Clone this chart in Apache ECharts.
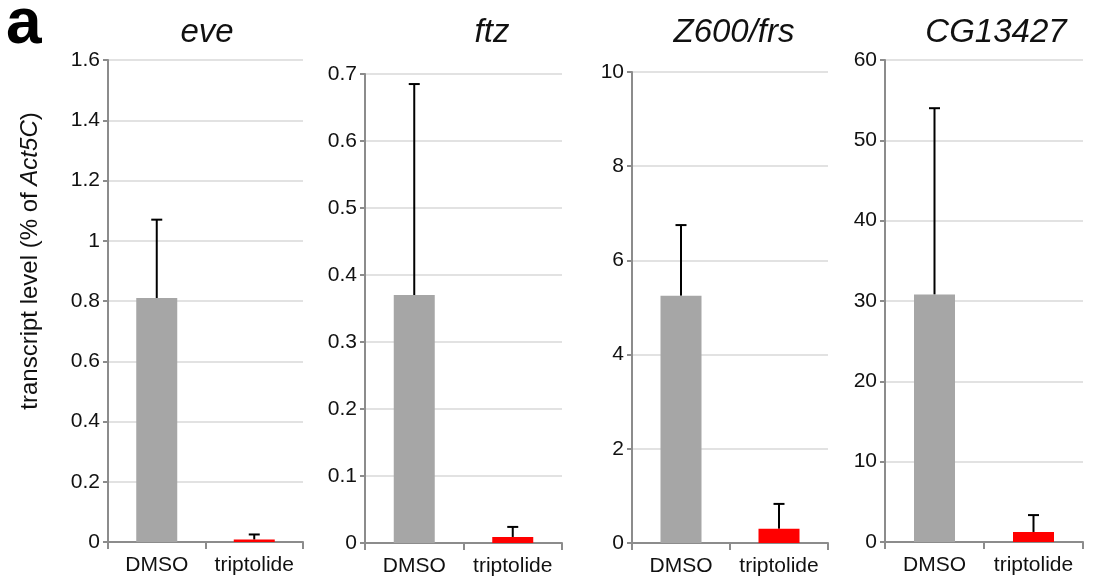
<!DOCTYPE html>
<html>
<head>
<meta charset="utf-8">
<script src="https://cdn.jsdelivr.net/npm/echarts@6/dist/echarts.min.js"></script>
<style>
  html, body { margin: 0; padding: 0; background: #fff; }
  #myChart { width: 1098px; height: 583px; }
</style>
</head>
<body>
<div id="myChart"></div>
<script>
// data
var categories = ["DMSO", "triptolide"];
var genes = ["eve", "ftz", "Z600/frs", "CG13427"];
var means = [
  [0.81, 0.008],
  [0.37, 0.009],
  [5.25, 0.30],
  [30.8, 1.25]
];
var errTops = [
  [1.07, 0.025],
  [0.685, 0.024],
  [6.75, 0.83],
  [54.0, 3.35]
];
var yMax = [1.6, 0.7, 10, 60];
var yStep = [0.2, 0.1, 2, 10];
var barColors = ["#a6a6a6", "#ff0000"];

// panel placement
var grids = [
  { left: 108, top: 60, width: 195, height: 482 },
  { left: 365, top: 74, width: 197, height: 469 },
  { left: 632, top: 72, width: 196, height: 471 },
  { left: 885, top: 60, width: 198, height: 482 }
];
var titleX = [202, 487, 729, 991];

var FONT = "Liberation Sans, Arial, sans-serif";
var axisGray = "#8c8c8c";

var option = {
  animation: false,
  backgroundColor: "#fff",
  title: genes.map(function (g, i) {
    return {
      text: g,
      left: titleX[i],
      top: 11,
      textAlign: "center",
      textStyle: { fontFamily: FONT, fontStyle: "italic", fontWeight: "normal", fontSize: 33, color: "#111" }
    };
  }),
  graphic: [
    {
      type: "text",
      left: 6,
      top: -7,
      style: { text: "a", font: "bold 64px " + FONT, fill: "#000" }
    },
    {
      type: "text",
      x: 30,
      y: 261,
      rotation: Math.PI / 2,
      style: {
        text: "{n|transcript level (% of }{i|Act5C}{n|)}",
        align: "center",
        verticalAlign: "middle",
        rich: {
          n: { fontFamily: FONT, fontSize: 24, fill: "#111" },
          i: { fontFamily: FONT, fontSize: 24, fill: "#111", fontStyle: "italic" }
        }
      }
    }
  ],
  grid: grids,
  xAxis: grids.map(function (g, i) {
    return {
      type: "category",
      gridIndex: i,
      data: categories,
      axisLine: { lineStyle: { color: axisGray, width: 2 } },
      axisTick: { show: true, length: 7, lineStyle: { color: axisGray, width: 2 } },
      axisLabel: { interval: 0, hideOverlap: false, fontFamily: FONT, fontSize: 21, color: "#111", margin: 13 },
      splitLine: { show: false }
    };
  }),
  yAxis: grids.map(function (g, i) {
    return {
      type: "value",
      gridIndex: i,
      min: 0,
      max: yMax[i],
      interval: yStep[i],
      axisLine: { show: true, lineStyle: { color: axisGray, width: 2 } },
      axisTick: { show: true, length: 5, lineStyle: { color: axisGray, width: 2 } },
      axisLabel: { fontFamily: FONT, fontSize: 21, color: "#111", margin: 8 },
      splitLine: { show: true, lineStyle: { color: "#e2e2e2", width: 2 } }
    };
  }),
  series: []
};

genes.forEach(function (g, i) {
  option.series.push({
    type: "bar",
    xAxisIndex: i,
    yAxisIndex: i,
    barWidth: 41,
    data: means[i].map(function (v, j) {
      return { value: v, itemStyle: { color: barColors[j] } };
    })
  });
  // upper error bars
  option.series.push({
    type: "custom",
    xAxisIndex: i,
    yAxisIndex: i,
    z: 1,
    data: means[i].map(function (v, j) { return [j, v, errTops[i][j]]; }),
    renderItem: function (params, api) {
      var base = api.coord([api.value(0), api.value(1)]);
      var top = api.coord([api.value(0), api.value(2)]);
      var half = 5.5;
      var st = { stroke: "#000", lineWidth: 2 };
      return {
        type: "group",
        children: [
          { type: "line", shape: { x1: base[0], y1: base[1], x2: top[0], y2: top[1] }, style: st },
          { type: "line", shape: { x1: top[0] - half, y1: top[1], x2: top[0] + half, y2: top[1] }, style: st }
        ]
      };
    }
  });
});

var chart = echarts.init(document.getElementById("myChart"));
chart.setOption(option);
</script>
</body>
</html>
